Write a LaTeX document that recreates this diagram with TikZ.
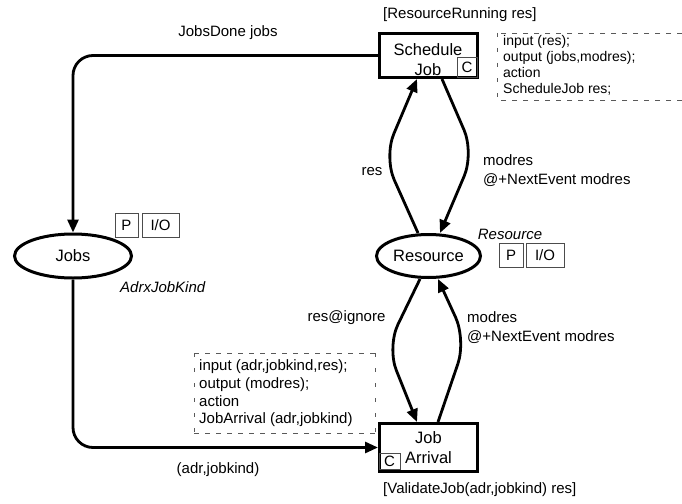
\documentclass[tikz,border=0pt]{standalone}
\usepackage{fontspec}
\setmainfont{Liberation Sans}
\usetikzlibrary{arrows.meta,shapes.geometric}

\newcommand\pnNodeFont{\fontsize{16.5}{20}\selectfont}
\newcommand\pnLabelFont{\fontsize{15}{19}\selectfont}
\newcommand\pnTagFont{\fontsize{15}{18}\selectfont}
\newcommand\pnCodeFontA{\fontsize{14}{16}\selectfont}
\newcommand\pnCodeFontB{\fontsize{15}{17.8}\selectfont}

\tikzset{
  place/.style={ellipse, draw, line width=3pt, inner sep=0pt, font=\pnNodeFont},
  trans/.style={rectangle, draw, line width=3pt, inner sep=0pt, font=\pnNodeFont},
  tagbox/.style={rectangle, draw=black!70, line width=0.9pt, inner sep=0pt,
                 minimum height=24pt, font=\pnTagFont},
  pnarc/.style={line width=2.8pt, -{Triangle[length=13pt,width=11pt]}},
  lbl/.style={font=\pnLabelFont, inner sep=0pt},
  hframe/.style={draw=black!65, line width=0.9pt, dash pattern=on 5pt off 6pt},
  vframe/.style={draw=black!65, line width=0.9pt, dash pattern=on 4pt off 11pt},
}

\begin{document}
\begin{tikzpicture}[x=1pt,y=-1pt]
\useasboundingbox (0,0) rectangle (682,503);

% places
\node[place, minimum width=117pt, minimum height=44pt] (jobs) at (73,256) {Jobs};
\node[place, minimum width=104pt, minimum height=43pt] (res) at (428.5,256) {Resource};

% transitions
\node[trans, minimum width=98pt, minimum height=44pt] (sj) at (428.5,55.5) {};
\node[font=\pnNodeFont, align=center, inner sep=0pt] (sjtext) at (428,60) {Schedule\\Job};
\node[trans, minimum width=98pt, minimum height=48pt, align=center] (ja) at (428.5,447.5) {Job\\Arrival};

% code and port tags
\node[tagbox, minimum width=20pt, minimum height=20pt] (sjc) at (467,67) {C};
\node[tagbox, minimum width=21pt, minimum height=16pt] (jac) at (389.5,461) {C};
\node[tagbox, minimum width=23pt] (jobsp) at (126.5,225) {P};
\node[tagbox, minimum width=37pt] (jobsio) at (160.5,225) {I/O};
\node[tagbox, minimum width=24pt] (resp) at (511,255) {P};
\node[tagbox, minimum width=38pt] (resio) at (545,255) {I/O};

% colour sets
\node[lbl, font=\pnLabelFont\itshape, anchor=west] (jobscs) at (120,287) {AdrxJobKind};
\node[lbl, font=\pnLabelFont\itshape] (rescs) at (510,234) {Resource};

% guards
\node[lbl, anchor=west] (sjguard) at (383,15) {[ResourceRunning res]};
\node[lbl, anchor=west] (jaguard) at (383,490) {[ValidateJob(adr,jobkind) res]};

% code segments
\draw[hframe] (682,33) -- (497,33);
\draw[hframe] (682,100) -- (497,100);
\draw[vframe] (497,33) -- (497,100);
\node[font=\pnCodeFontA, align=left, inner sep=0pt, anchor=north west] (sjcode) at (503,35.5)
  {input (res);\\output (jobs,modres);\\action\\ScheduleJob res;};

\draw[hframe] (194,353) -- (375,353);
\draw[hframe] (194,433) -- (375,433);
\draw[vframe] (194,353) -- (194,433);
\draw[vframe] (375,353) -- (375,433);
\node[font=\pnCodeFontB, align=left, inner sep=0pt, anchor=north west] (jacode) at (199,359.5)
  {input (adr,jobkind,res);\\output (modres);\\action\\JobArrival (adr,jobkind)};

% arcs between Jobs and the transitions
\draw[pnarc, rounded corners=20pt] (sj.west) -- (jobs.north |- sj.west) -- (jobs.north);
\draw[pnarc, rounded corners=20pt] (jobs.south) -- (jobs.south |- ja.west) -- (ja.west);
\node[lbl] (l1) at (228,33) {JobsDone jobs};
\node[lbl] (l2) at (218,470) {(adr,jobkind)};

% arcs between Resource and Schedule Job
\draw[pnarc, rounded corners=25pt] ([xshift=-10.5pt]res.north) -- (384,157) -- ([xshift=-11.5pt]sj.south);
\draw[pnarc, rounded corners=25pt] ([xshift=13.5pt]sj.south) -- (474,153) -- ([xshift=11.5pt]res.north);
\node[lbl] (l3) at (372,172) {res};
\node[lbl, anchor=west, align=left] (l4) at (483,171) {modres\\@+NextEvent modres};

% arcs between Resource and Job Arrival
\draw[pnarc, rounded corners=25pt] ([xshift=-8.5pt]res.south) -- (387,347) -- ([xshift=-11.5pt]ja.north);
\draw[pnarc, rounded corners=25pt] ([xshift=9.5pt]ja.north) -- (466,340) -- ([xshift=9.5pt]res.south);
\node[lbl] (l5) at (346.5,318) {res@ignore};
\node[lbl, anchor=west, align=left] (l6) at (467,328) {modres\\@+NextEvent modres};
\end{tikzpicture}
\end{document}
